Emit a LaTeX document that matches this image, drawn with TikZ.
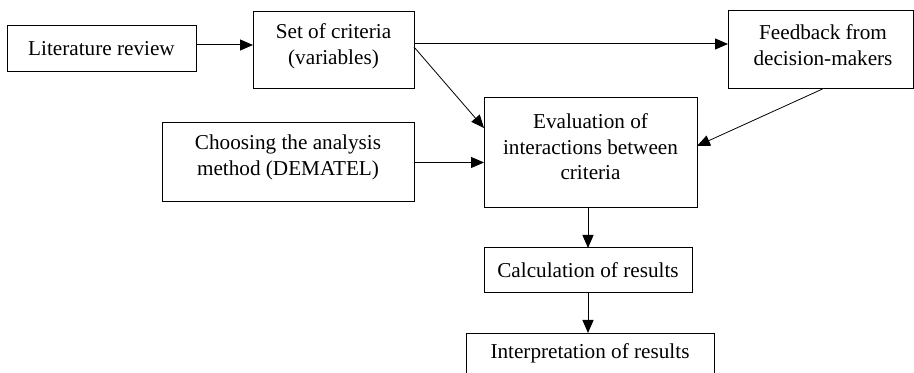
\documentclass[tikz,border=0pt]{standalone}
\usepackage{fontspec}
\setmainfont{Liberation Serif}
\usetikzlibrary{arrows.meta}
\tikzset{
  box/.style={draw,line width=0.5pt,outer sep=0pt,inner sep=0pt},
  txt/.style={align=center,inner sep=0pt},
  arr/.style={-{Triangle[length=6.5pt,width=5.5pt]},line width=0.5pt}
}
\begin{document}
\begin{tikzpicture}[x=0.5pt,y=-0.5pt,font=\fontsize{10.6}{12.8}\selectfont]
\useasboundingbox (0,0) rectangle (914,373);
\clip (0,0) rectangle (914,373);
% boxes
\node[box,minimum width=94.5pt,minimum height=23pt] (lit) at (101.5,49) {Literature review};
\node[box,minimum width=80.5pt,minimum height=38.5pt] (crit) at (333.5,50.5) {};
\node[txt] (crit-t) at (333.5,46.5) {Set of criteria\\(variables)};
\node[box,minimum width=92.5pt,minimum height=39pt] (feed) at (820.5,50) {};
\node[txt] (feed-t) at (823,45) {Feedback from\\decision-makers};
\node[box,minimum width=106.5pt,minimum height=55pt] (eval) at (590.5,153) {};
\node[txt] (eval-t) at (590.5,147) {Evaluation of\\interactions between\\criteria};
\node[box,minimum width=126pt,minimum height=39.5pt] (choose) at (288,162.5) {};
\node[txt] (choose-t) at (288,157.5) {Choosing the analysis\\method (DEMATEL)};
\node[box,minimum width=104pt,minimum height=22.5pt] (calc) at (588,270.5) {Calculation of results};
\node[box,minimum width=124pt,minimum height=30pt] (interp) at (590,363) {};
\node[txt] (interp-t) at (590,353) {Interpretation of results};
% connectors
\draw[arr] ([yshift=2pt]lit.east) -- ([yshift=2pt]lit.east -| crit.west);
\draw[arr] ([yshift=3.25pt]crit.east) -- ([yshift=3.25pt]crit.east -| feed.west);
\draw[arr,line width=0.4pt] ([yshift=1.75pt]crit.east) -- ([yshift=12.5pt]eval.west);
\draw[arr] (choose.east) -- (choose.east -| eval.west);
\draw[arr,line width=0.4pt] ([xshift=1pt]feed.south) -- ([yshift=3.5pt]eval.east);
\draw[arr] (calc.north |- eval.south) -- (calc.north);
\draw[arr] (calc.south) -- (calc.south |- interp.north);
\end{tikzpicture}
\end{document}
